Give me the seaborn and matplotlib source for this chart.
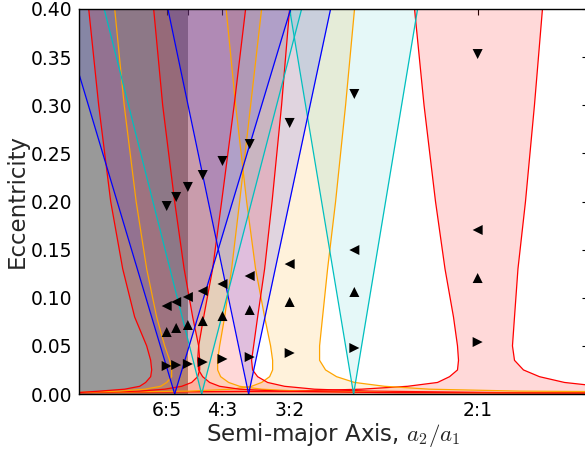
import matplotlib
matplotlib.use("Agg")
import matplotlib.pyplot as plt
import seaborn as sns
import pandas as pd

# ---------------- data ----------------
# eccentricity levels at which first-order resonance boundaries were read
ecc = [0.40, 0.30, 0.20, 0.13, 0.08, 0.05, 0.035, 0.025, 0.018, 0.012,
       0.008, 0.005, 0.003, 0.0015, 0.0005]

# first-order resonances: inner (left) and outer (right) separatrix, a2/a1
r21_left = [1.4944, 1.5084, 1.5253, 1.5393, 1.5518, 1.5577, 1.5592, 1.5577,
            1.5460, 1.5283, 1.4841, 1.4163, 1.3103, 0.99, 0.80]
r21_right = [1.6829, 1.6711, 1.6579, 1.6468, 1.6417, 1.6387, 1.6417, 1.6549,
             1.6785, 1.7153, 1.7669, 1.8847, 2.0614, 2.50, 3.00]
r32_left = [1.2168, 1.2308, 1.2470, 1.2602, 1.2735, 1.2823, 1.2853, 1.2853,
            1.2809, 1.2691, 1.2543, 1.2249, 1.1630, 1.00, 0.80]
r32_right = [1.4060, 1.3928, 1.3781, 1.3663, 1.3589, 1.3545, 1.3545, 1.3633,
             1.3795, 1.4060, 1.4502, 1.5165, 1.6490, 1.9878, 2.60]
r43_left = [1.1100, 1.1233, 1.1409, 1.1549, 1.1675, 1.1763, 1.1778, 1.1778,
            1.1748, 1.1660, 1.1513, 1.1262, 1.0894, 1.0158, 0.80]
r43_right = [1.3103, 1.2985, 1.2845, 1.2735, 1.2632, 1.2573, 1.2543, 1.2558,
             1.2632, 1.2779, 1.3029, 1.3471, 1.4281, 1.6196, 2.50]
r54_left = [1.0526, 1.0666, 1.0842, 1.0997, 1.1144, 1.1262, 1.1336, 1.1365,
            1.1365, 1.1292, 1.1203, 1.0968, 1.0599, 1.00, 0.80]
r54_right = [1.2691, 1.2529, 1.2367, 1.2249, 1.2146, 1.2072, 1.2043, 1.2043,
             1.2087, 1.2205, 1.2367, 1.2691, 1.3250, 1.4723, 2.20]
r65_left = [1.0143, 1.0290, 1.0467, 1.0644, 1.0820, 1.0997, 1.1056, 1.1071,
            1.1056, 1.0982, 1.0894, 1.0673, 1.0305, 1.00, 0.80]
r65_right = [1.2455, 1.2286, 1.2102, 1.1969, 1.1837, 1.1763, 1.1748, 1.1763,
             1.1822, 1.1925, 1.2072, 1.2367, 1.2956, 1.4429, 2.00]

# second-order resonances: apex at e=0 and edges at e=0.4
v_ecc = [0.0, 0.40]
r53_left, r53_right = [1.4046, 1.3103], [1.4046, 1.4989]
r75_left, r75_right = [1.2499, 1.1310], [1.2499, 1.3707]
r97_left, r97_right = [1.1807, 1.0371], [1.1807, 1.3280]
r119_left, r119_right = [1.1410, 0.9714], [1.1410, 1.3118]

# shaded band
band_a = [1.0, 1.16]

# markers (nominal resonance locations)
marker_a = [1.1292, 1.1432, 1.1604, 1.1823, 1.2114, 1.2515, 1.3104, 1.4057, 1.5874]
ecc_down = [0.1953, 0.2047, 0.2151, 0.2275, 0.2421, 0.2597, 0.2816, 0.3117, 0.3532]
ecc_left = [0.0914, 0.0956, 0.1008, 0.1070, 0.1143, 0.1226, 0.1350, 0.1496, 0.1704]
ecc_up = [0.0644, 0.0686, 0.0717, 0.0758, 0.0810, 0.0873, 0.0956, 0.1060, 0.1205]
ecc_right = [0.0291, 0.0301, 0.0312, 0.0332, 0.0364, 0.0384, 0.0426, 0.0478, 0.0540]

tick_pos = [1.1292, 1.1604, 1.2114, 1.3104, 1.5874]
tick_labels = ["6:5", "", "4:3", "3:2", "2:1"]
ytick_pos = [0.0, 0.05, 0.10, 0.15, 0.20, 0.25, 0.30, 0.35, 0.40]

# ---------------- styling ----------------
sns.set_style("white")
plt.rcParams["font.family"] = ["DejaVu Sans"]
plt.rcParams["mathtext.fontset"] = "cm"

RED, ORANGE, CYAN, BLUE = "#ff0000", "#ffa500", "#00bfbf", "#0000ff"
ALPHA = {RED: 0.15, ORANGE: 0.14, CYAN: 0.10, BLUE: 0.12}

fig = plt.figure(figsize=(5.85, 4.51), dpi=100)
ax = fig.add_axes([79 / 585, 57 / 451, 509 / 585, 385 / 451])

first_order = [
    (r21_left, r21_right, RED),
    (r32_left, r32_right, ORANGE),
    (r43_left, r43_right, RED),
    (r54_left, r54_right, ORANGE),
    (r65_left, r65_right, RED),
]
second_order = [
    (r53_left, r53_right, CYAN),
    (r75_left, r75_right, BLUE),
    (r97_left, r97_right, CYAN),
    (r119_left, r119_right, BLUE),
]

ax.axvspan(band_a[0], band_a[1], color="black", alpha=0.4, lw=0, zorder=1)

for left, right, col in first_order:
    ax.fill_betweenx(ecc, left, right, color=col, alpha=ALPHA[col], lw=0, zorder=1)
for left, right, col in second_order:
    ax.fill_betweenx(v_ecc, left, right, color=col, alpha=ALPHA[col], lw=0, zorder=1)

for left, right, col in first_order:
    ax.plot(left, ecc, color=col, lw=0.9, zorder=3)
    ax.plot(right, ecc, color=col, lw=0.9, zorder=3)
for left, right, col in second_order:
    ax.plot(left, v_ecc, color=col, lw=0.9, zorder=3)
    ax.plot(right, v_ecc, color=col, lw=0.9, zorder=3)

n = len(marker_a)
df = pd.DataFrame({
    "a": marker_a * 4,
    "e": ecc_down + ecc_left + ecc_up + ecc_right,
    "kind": ["v"] * n + ["<"] * n + ["^"] * n + [">"] * n,
})
sns.scatterplot(data=df, x="a", y="e", style="kind",
                markers={"v": "v", "<": "<", "^": "^", ">": ">"},
                color="black", s=52, linewidth=0, legend=False, ax=ax, zorder=5)

ax.set_xlim(1.0, 1.75)
ax.set_ylim(0.0, 0.40)
ax.set_xticks(tick_pos)
ax.set_xticklabels(tick_labels)
ax.set_yticks(ytick_pos)
ax.set_yticklabels([f"{v:.2f}" for v in ytick_pos])
ax.tick_params(direction="in", top=True, right=True, length=4, width=0.8,
               labelsize=13.5, colors="black", pad=5)
for sp in ax.spines.values():
    sp.set_color("black")
    sp.set_linewidth(1.0)
    sp.set_zorder(6)

ax.set_xlabel("Semi-major Axis, $a_2/a_1$", fontsize=16.5, labelpad=1)
ax.set_ylabel("Eccentricity", fontsize=16.5, labelpad=1)

fig.savefig("out.png", dpi=100)
